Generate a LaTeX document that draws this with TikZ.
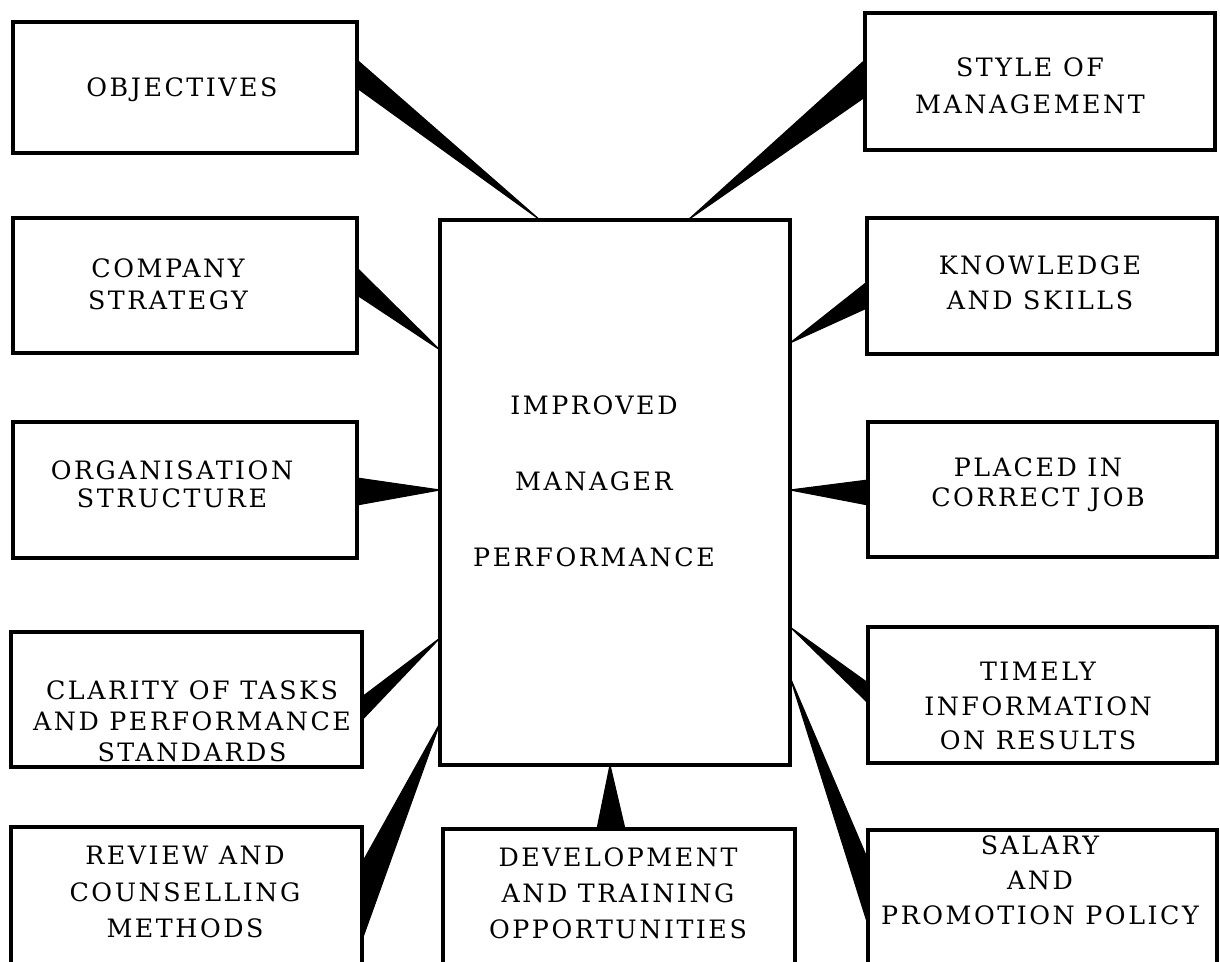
\documentclass[tikz,border=0pt]{standalone}
\usepackage{fontspec}
\setmainfont{DejaVu Serif}[LetterSpace=10]
\usetikzlibrary{fit,calc}
\newcommand\lblf[1]{\fontsize{7.2pt}{#1}\selectfont}
\begin{document}
\begin{tikzpicture}[x=0.01cm,y=-0.01cm,
  box/.style={draw, line width=1pt, inner sep=0pt, outer sep=0pt},
  lbl/.style={align=center, inner sep=0pt, font=\lblf{9pt}},
  wedge/.style={fill=black, draw=black, line width=0.3pt, line join=round}]
\useasboundingbox (0,0) rectangle (1220,962);
\clip (0,0) rectangle (1220,962);
% boxes
\node[box, fit={(13,22) (357,153)}] (L1) {};
\node[box, fit={(13,218) (357,353)}] (L2) {};
\node[box, fit={(13,422) (357,558)}] (L3) {};
\node[box, fit={(11,632) (362,767)}] (L4) {};
\node[box, fit={(11,827) (362,1000)}] (L5) {};
\node[box, fit={(865,13) (1215,150)}] (R1) {};
\node[box, fit={(867,218) (1217,354)}] (R2) {};
\node[box, fit={(868,422) (1217,557)}] (R3) {};
\node[box, fit={(868,627) (1217,763)}] (R4) {};
\node[box, fit={(868,830) (1217,1000)}] (R5) {};
\node[box, fit={(440,220) (790,765)}] (C) {};
\node[box, fit={(443,829) (795,1000)}] (B) {};
% labels
\node[lbl] (tL1) at (182,90) {OBJECTIVES};
\node[lbl, font=\lblf{9.1pt}] (tL2) at (168,284) {COMPANY\\STRATEGY};
\node[lbl, font=\lblf{8pt}] (tL3) at (172,484) {ORGANISATION\\STRUCTURE};
\node[lbl, font=\lblf{8.8pt}] (tL4) at (192,721) {CLARITY OF TASKS\\AND PERFORMANCE\\STANDARDS};
\node[lbl, font=\lblf{10.5pt}] (tL5) at (185,892) {REVIEW AND\\COUNSELLING\\METHODS};
\node[lbl, font=\lblf{21.6pt}] (tC) at (594,481) {IMPROVED\\MANAGER\\PERFORMANCE};
\node[lbl, font=\lblf{10.2pt}] (tB) at (618,893) {DEVELOPMENT\\AND TRAINING\\OPPORTUNITIES};
\node[lbl, font=\lblf{10.5pt}] (tR1) at (1030,86) {STYLE OF\\MANAGEMENT};
\node[lbl, font=\lblf{10pt}] (tR2) at (1040,283) {KNOWLEDGE\\AND SKILLS};
\node[lbl, font=\lblf{8.5pt}] (tR3) at (1038,485) {PLACED IN\\CORRECT JOB};
\node[lbl, font=\lblf{9.7pt}] (tR4) at (1038,706) {TIMELY\\INFORMATION\\ON RESULTS};
\node[lbl, font=\lblf{10pt}] (tR5) at (1040,880) {SALARY\\AND\\PROMOTION POLICY};
% wedge connectors
\fill[wedge] ($(L1.north east)+(0,38)$) -- ($(L1.north east)+(0,66)$) -- ($(C.north west)+(100,0)$) -- cycle;
\fill[wedge] ($(R1.north west)+(0,47)$) -- ($(R1.north west)+(0,84)$) -- ($(C.north east)+(-102,0)$) -- cycle;
\fill[wedge] ($(L2.north east)+(0,50)$) -- ($(L2.north east)+(0,77)$) -- ($(C.north west)+(0,130)$) -- cycle;
\fill[wedge] ($(R2.north west)+(0,64)$) -- ($(R2.north west)+(0,90)$) -- ($(C.north east)+(0,123)$) -- cycle;
\fill[wedge] ($(L3.north east)+(0,56)$) -- ($(L3.north east)+(0,83)$) -- ($(C.north west)+(0,270)$) -- cycle;
\fill[wedge] ($(R3.north west)+(0,58)$) -- ($(R3.north west)+(0,83)$) -- ($(C.north east)+(0,270)$) -- cycle;
\fill[wedge] ($(L4.north east)+(0,65)$) -- ($(L4.north east)+(0,88)$) -- ($(C.north west)+(0,418)$) -- cycle;
\fill[wedge] ($(L5.north east)+(0,36)$) -- ($(L5.north east)+(0,113)$) -- ($(C.north west)+(0,503)$) -- cycle;
\fill[wedge] ($(R4.north west)+(0,56)$) -- ($(R4.north west)+(0,76)$) -- ($(C.north east)+(0,407)$) -- cycle;
\fill[wedge] ($(R5.north west)+(0,30)$) -- ($(R5.north west)+(0,95)$) -- ($(C.north east)+(0,457)$) -- cycle;
\fill[wedge] ($(B.north west)+(154,0)$) -- ($(B.north west)+(182,0)$) -- ($(C.south west)+(170,0)$) -- cycle;
\end{tikzpicture}
\end{document}
